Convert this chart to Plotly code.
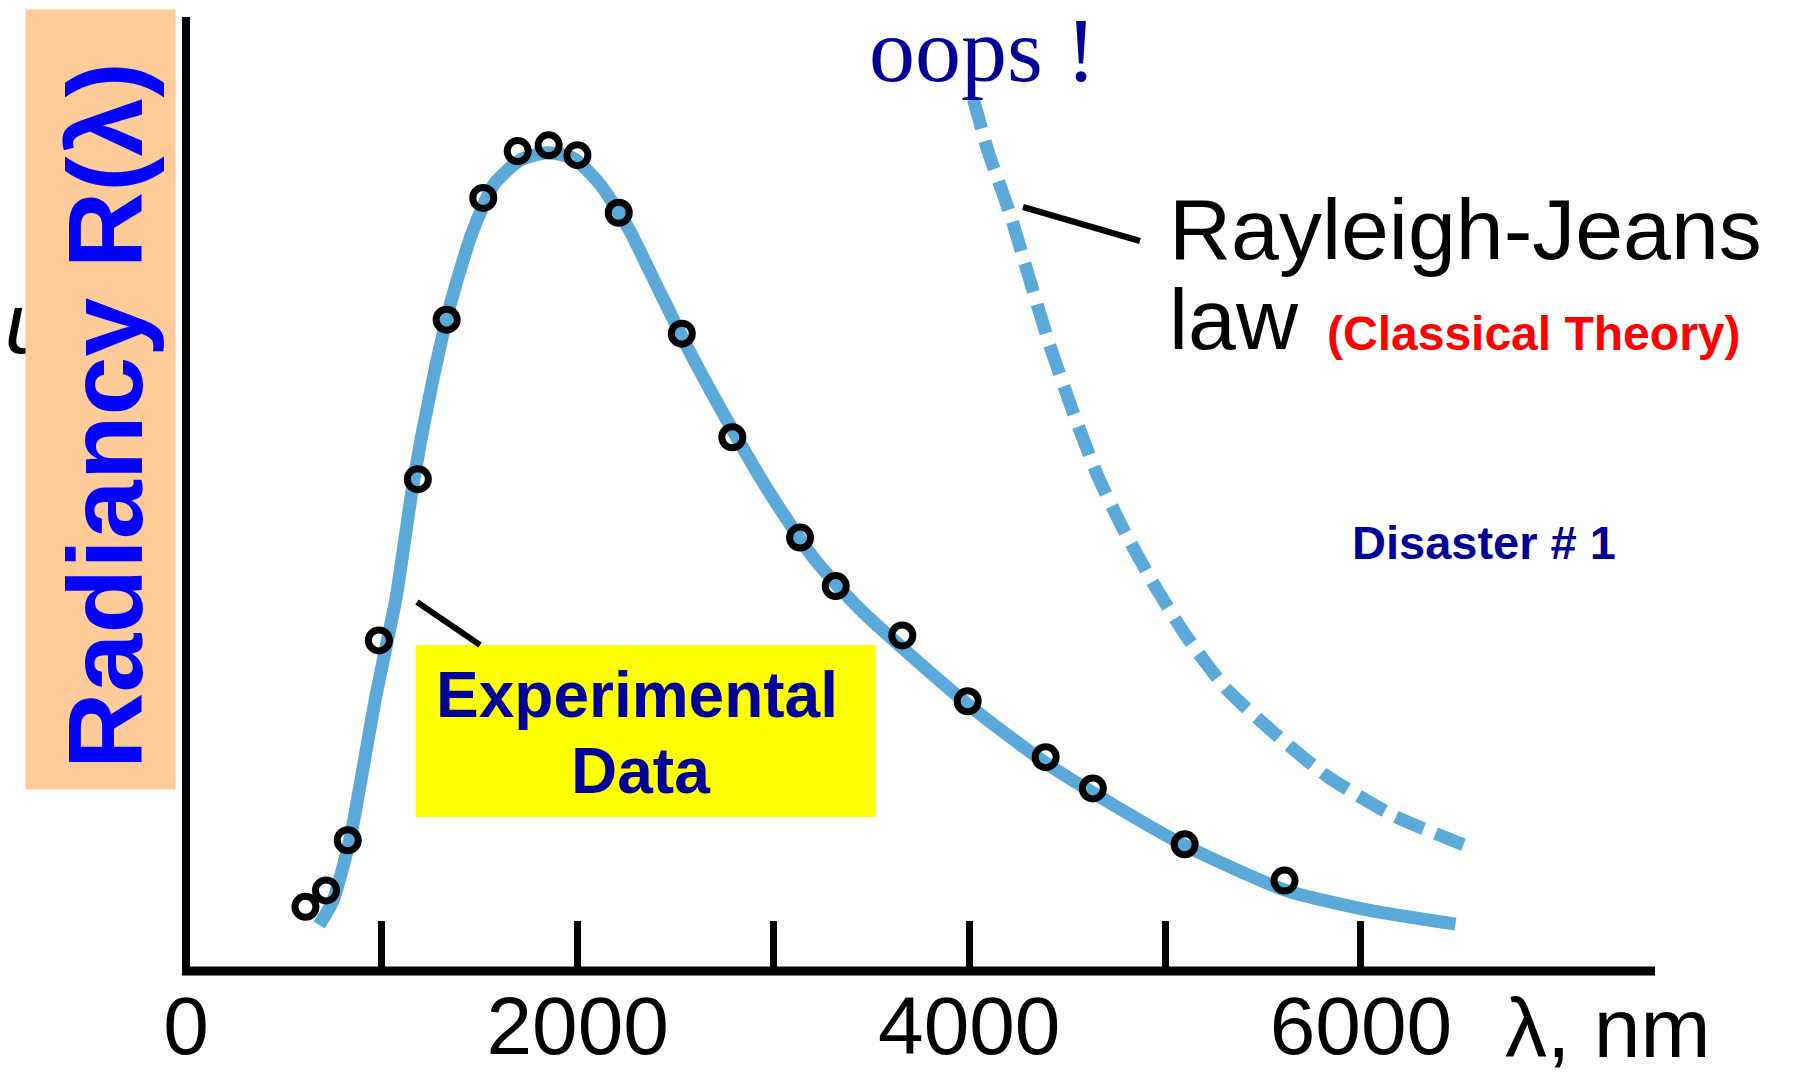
import plotly.graph_objects as go

# ---------------- data ----------------
# experimental data points (wavelength nm, radiancy arbitrary units)
exp_x = [610, 715, 826, 985, 1184, 1331, 1518, 1694, 1852, 1999, 2210, 2532,
         2790, 3136, 3318, 3658, 3992, 4390, 4631, 5100, 5610]
exp_y = [7.8, 9.8, 15.9, 40.2, 59.8, 79.2, 94.0, 99.7, 100.4, 99.2, 92.2, 77.5,
         64.9, 52.7, 46.8, 40.8, 32.8, 26.0, 22.2, 15.4, 11.0]

# smooth (Planck) curve
curve_x = [680, 750, 838, 914, 967, 1026, 1073, 1161, 1254, 1348, 1460, 1571,
           1706, 1846, 1981, 2116, 2257, 2415, 2550, 2755, 2984, 3212, 3441,
           3681, 4009, 4390, 4771, 5106, 5616, 6038, 6483]
curve_y = [5.6, 8.5, 16.1, 26.0, 33.1, 39.9, 45.4, 59.4, 71.1, 80.9, 89.7, 95.6,
           98.6, 99.5, 98.8, 95.6, 90.4, 82.8, 76.3, 67.3, 58.0, 50.0, 44.0,
           38.8, 32.1, 25.3, 19.7, 15.2, 9.8, 7.4, 5.7]

# Rayleigh-Jeans (classical) curve
rj_x = [4021, 4097, 4209, 4302, 4408, 4531, 4654, 4783, 4936, 5106, 5317, 5574,
        5826, 6166, 6583]
rj_y = [106.0, 99.6, 92.0, 84.6, 76.3, 67.9, 60.3, 53.9, 47.3, 40.8, 34.2, 28.6,
        23.7, 18.9, 14.8]

tick_vals = [0, 1000, 2000, 3000, 4000, 5000, 6000]
tick_text = ["0", "", "2000", "", "4000", "", "6000"]

X_RANGE = [0, 7502]
Y_RANGE = [0, 116]

# ---------------- figure ----------------
W, H = 1801, 1077
ML, MR, MT, MB = 186, 146, 17, 106
PW, PH = W - ML - MR, H - MT - MB

def px(fx):
    return (fx - ML) / PW

def py(fy):
    return (H - MB - fy) / PH

SANS = "Liberation Sans, Arial, sans-serif"
SERIF = "Liberation Serif, Times New Roman, serif"
BLUE_LINE = "#5aa9d8"
NAVY = "#000099"

fig = go.Figure()

fig.add_trace(go.Scatter(
    x=curve_x, y=curve_y, mode="lines",
    line=dict(color=BLUE_LINE, width=13, shape="spline", smoothing=0.6),
    hoverinfo="skip", showlegend=False))

fig.add_trace(go.Scatter(
    x=rj_x, y=rj_y, mode="lines",
    line=dict(color=BLUE_LINE, width=13, shape="spline", smoothing=0.6,
              dash="30px,13px"),
    hoverinfo="skip", showlegend=False))

fig.add_trace(go.Scatter(
    x=exp_x, y=exp_y, mode="markers",
    marker=dict(symbol="circle-open", size=21, color="black",
                line=dict(width=7, color="black")),
    hoverinfo="skip", showlegend=False))

shapes = [
    # x axis line
    dict(type="line", xref="paper", yref="paper", x0=px(182), x1=px(1655),
         y0=py(971), y1=py(971), line=dict(color="black", width=9)),
    # y axis line
    dict(type="line", xref="paper", yref="paper", x0=px(186), x1=px(186),
         y0=py(975), y1=py(17), line=dict(color="black", width=8)),
    # yellow label box
    dict(type="rect", xref="paper", yref="paper", x0=px(416), x1=px(875),
         y0=py(817), y1=py(645), fillcolor="#ffff00", line=dict(width=0),
         layer="above"),
    # pointer to experimental curve
    dict(type="line", xref="paper", yref="paper", x0=px(417), y0=py(602),
         x1=px(480), y1=py(645), line=dict(color="black", width=6)),
    # pointer to Rayleigh-Jeans curve
    dict(type="line", xref="paper", yref="paper", x0=px(1023), y0=py(207),
         x1=px(1140), y1=py(241), line=dict(color="black", width=6)),
]

ann = []
def A(text, x, y, size, color="black", family=SANS, xanchor="center", **kw):
    ann.append(dict(text=text, xref="paper", yref="paper", x=px(x), y=py(y),
                    xanchor=xanchor, yanchor="middle", showarrow=False,
                    font=dict(size=size, color=color, family=family),
                    borderpad=0, **kw))

# partially hidden "u" behind the y label box
A("<i>u</i>", 4, 323, 85, xanchor="left")
# peach box behind the y label
A(" ", 100.5, 399.5, 20, textangle=-90, width=779, height=149,
  bgcolor="#ffcc99")
A("<b>Radiancy R(λ)</b>", 105, 416, 106, color="#0000ff", textangle=-90)

A("oops !", 982, 50, 92, color=NAVY, family=SERIF)
A("Rayleigh-Jeans", 1168, 229, 86, xanchor="left")
A("law", 1168, 319, 86, xanchor="left")
A("<b>(Classical Theory)</b>", 1326, 333, 48, color="#ff0000", xanchor="left")
A("<b>Disaster # 1</b>", 1484, 542, 47, color=NAVY)
A("<b>Experimental</b>", 637, 695, 64, color=NAVY)
A("<b>Data</b>", 640, 771, 64, color=NAVY)
A("λ, nm", 1504, 1028, 84, xanchor="left")

fig.update_layout(
    width=W, height=H,
    margin=dict(l=ML, r=MR, t=MT, b=MB, pad=0, autoexpand=False),
    paper_bgcolor="white", plot_bgcolor="white",
    showlegend=False, hovermode=False,
    shapes=shapes, annotations=ann,
    xaxis=dict(range=X_RANGE, tickvals=tick_vals, ticktext=tick_text,
               ticks="inside", ticklen=50, tickwidth=7, tickcolor="black",
               showline=False, showgrid=False, zeroline=False,
               tickfont=dict(size=82, color="black", family=SANS),
               ticklabelstandoff=0, automargin=False, fixedrange=True),
    yaxis=dict(range=Y_RANGE, visible=False, automargin=False,
               fixedrange=True),
)

fig.write_html("out.html", config={"displayModeBar": False},
               post_script="document.body.style.margin='0px';")
